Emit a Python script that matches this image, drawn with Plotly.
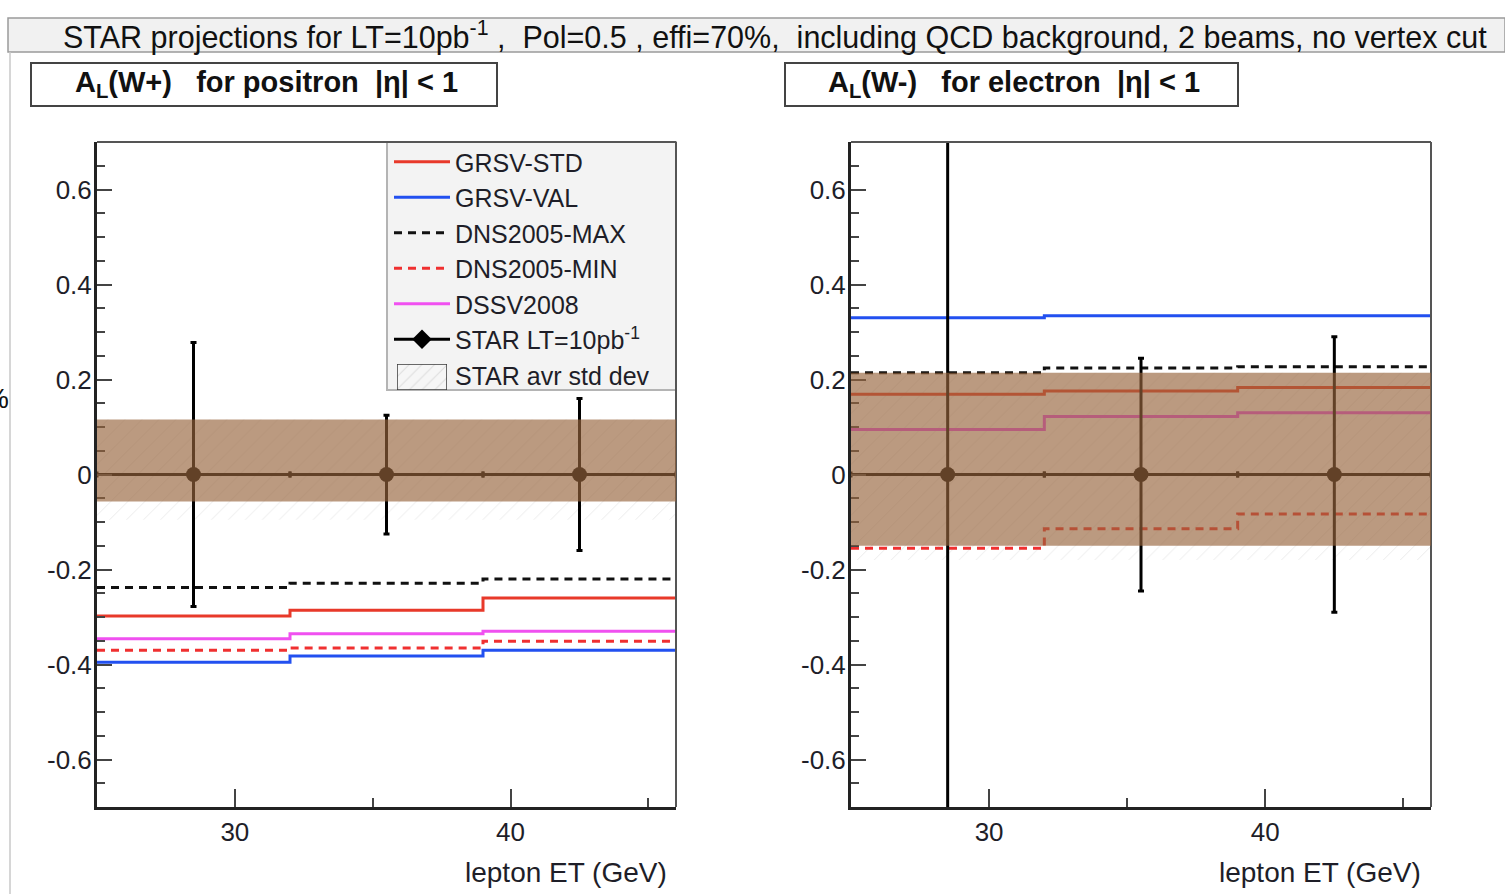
import plotly.graph_objects as go

# ---------------- data ----------------
x_edges = [25, 32, 39, 46]
x_centers = [28.5, 35.5, 42.5]
x_halfwidth = [3.5, 3.5, 3.5]

# W+ (positron) panel
wp_grsv_std = [-0.298, -0.286, -0.260]
wp_grsv_val = [-0.395, -0.382, -0.370]
wp_dns_max = [-0.238, -0.229, -0.220]
wp_dns_min = [-0.370, -0.365, -0.351]
wp_dssv = [-0.346, -0.335, -0.330]
wp_star = [0.0, 0.0, 0.0]
wp_star_err = [0.278, 0.125, 0.160]
wp_band_brown = [-0.057, 0.116]
wp_band_hatch = [-0.095, 0.116]

# W- (electron) panel
wm_grsv_std = [0.169, 0.176, 0.183]
wm_grsv_val = [0.330, 0.334, 0.334]
wm_dns_max = [0.214, 0.224, 0.227]
wm_dns_min = [-0.155, -0.114, -0.083]
wm_dssv = [0.095, 0.122, 0.130]
wm_star = [0.0, 0.0, 0.0]
wm_star_err = [0.80, 0.245, 0.290]
wm_band_brown = [-0.150, 0.214]
wm_band_hatch = [-0.180, 0.214]

y_tickvals = [-0.6, -0.4, -0.2, 0, 0.2, 0.4, 0.6]
y_ticktext = ["-0.6", "-0.4", "-0.2", "0", "0.2", "0.4", "0.6"]
x_tickvals = [30, 40]
x_ticktext = ["30", "40"]

title_text = ("STAR projections for LT=10pb<sup>-1</sup> ,\u00a0\u00a0Pol=0.5 , effi=70%,\u00a0\u00a0"
              "including QCD background, 2 beams, no vertex cut")
panel_titles = ["A<sub>L</sub>(W+)\u00a0\u00a0\u00a0for positron\u00a0\u00a0|η| &lt; 1",
                "A<sub>L</sub>(W-)\u00a0\u00a0\u00a0for electron\u00a0\u00a0|η| &lt; 1"]
x_title = "lepton ET (GeV)"

styles = {
    "GRSV-STD": dict(color="#e8392a", dash="solid"),
    "GRSV-VAL": dict(color="#2250f0", dash="solid"),
    "DNS2005-MAX": dict(color="#111111", dash="8px,6px"),
    "DNS2005-MIN": dict(color="#f03030", dash="8px,6px"),
    "DSSV2008": dict(color="#f050f0", dash="solid"),
}

W, H = 1505, 894
FONT = "Liberation Sans, Arial, Helvetica, sans-serif"
TXT = "#1e1e28"


def px_x(p):
    return p / W


def px_y(p):
    return 1 - p / H


fig = go.Figure()

PLOT_X = [(97, 676), (851, 1431)]
PLOT_Y = (142, 807)

# frame lines (top / right, thinner grey) and legend background
for (xl, xr) in PLOT_X:
    fig.add_shape(type="line", xref="paper", yref="paper", x0=px_x(xl), x1=px_x(xr),
                  y0=px_y(PLOT_Y[0]), y1=px_y(PLOT_Y[0]), line=dict(color="#555", width=2),
                  layer="above")
    fig.add_shape(type="line", xref="paper", yref="paper", x0=px_x(xr), x1=px_x(xr),
                  y0=px_y(PLOT_Y[0]), y1=px_y(PLOT_Y[1]), line=dict(color="#555", width=2),
                  layer="above")
fig.add_shape(type="rect", xref="paper", yref="paper", x0=px_x(387), x1=px_x(676),
              y0=px_y(390), y1=px_y(142), fillcolor="#f3f3f3",
              line=dict(color="#b4b4b4", width=2), layer="below")

panels = [
    dict(xa="x", ya="y", curves=[("GRSV-STD", wp_grsv_std), ("GRSV-VAL", wp_grsv_val),
                                  ("DNS2005-MAX", wp_dns_max), ("DNS2005-MIN", wp_dns_min),
                                  ("DSSV2008", wp_dssv)],
         star=wp_star, err=wp_star_err, brown=wp_band_brown, hatch=wp_band_hatch, overhang=0.0),
    dict(xa="x2", ya="y2", curves=[("GRSV-STD", wm_grsv_std), ("GRSV-VAL", wm_grsv_val),
                                    ("DNS2005-MAX", wm_dns_max), ("DNS2005-MIN", wm_dns_min),
                                    ("DSSV2008", wm_dssv)],
         star=wm_star, err=wm_star_err, brown=wm_band_brown, hatch=wm_band_hatch, overhang=0.2),
]

for i, p in enumerate(panels):
    x0, x1 = x_edges[0], x_edges[-1]
    lo, hi = p["hatch"]
    fig.add_trace(go.Scatter(
        x=[x0, x1, x1, x0, x0], y=[lo, lo, hi, hi, lo], mode="lines",
        fill="toself", fillcolor="rgba(255,255,255,0)",
        fillpattern=dict(shape="/", fgcolor="#d6d6d6", bgcolor="white", size=12, solidity=0.08),
        line=dict(width=0), showlegend=False, hoverinfo="skip",
        xaxis=p["xa"], yaxis=p["ya"]))
    for name, vals in p["curves"]:
        st = styles[name]
        fig.add_trace(go.Scatter(
            x=x_edges, y=vals + [vals[-1]], mode="lines", line_shape="hv",
            line=dict(color=st["color"], width=3, dash=st["dash"]),
            name=name, showlegend=(i == 0), legendrank=len(fig.data),
            xaxis=p["xa"], yaxis=p["ya"]))
    fig.add_trace(go.Scatter(
        x=x_centers, y=p["star"], mode="markers",
        marker=dict(symbol="circle", size=15, color="black"),
        error_y=dict(type="data", array=p["err"], color="black", thickness=3, width=3),
        error_x=dict(type="data", array=x_halfwidth, color="black", thickness=3, width=3),
        showlegend=False, xaxis=p["xa"], yaxis=p["ya"]))
    blo, bhi = p["brown"]
    fig.add_shape(type="rect", xref=p["xa"], yref=p["ya"], x0=x0, x1=x1 + p["overhang"],
                  y0=blo, y1=bhi, fillcolor="rgb(150,100,60)", opacity=0.65,
                  line=dict(width=0), layer="above")

# legend proxies
fig.add_trace(go.Scatter(
    x=[None], y=[None], mode="lines+markers", name="STAR LT=10pb<sup>-1</sup>",
    line=dict(color="black", width=3), marker=dict(symbol="diamond", size=15, color="black"),
    legendrank=100))
fig.add_trace(go.Bar(
    x=[None], y=[None], name="STAR avr std dev",
    marker=dict(color="rgba(0,0,0,0)", line=dict(width=0)),
    legendrank=101))
# hatched swatch for the "STAR avr std dev" legend entry (drawn on a hidden overlay axis)
fig.add_trace(go.Scatter(
    x=[0, 1, 1, 0, 0], y=[0, 0, 1, 1, 0], mode="lines", fill="toself",
    fillcolor="rgba(0,0,0,0)",
    fillpattern=dict(shape="/", fgcolor="#c4c4c4", bgcolor="#f6f6f6", size=9, solidity=0.12),
    line=dict(color="#3a3a3a", width=1.5), showlegend=False, hoverinfo="skip",
    xaxis="x3", yaxis="y3"))

axis_common = dict(showgrid=False, zeroline=False, showline=True, mirror=False,
                   linecolor="#222", linewidth=3, ticks="inside", tickcolor="#444",
                   tickfont=dict(family=FONT, size=26, color=TXT))

ydom = [px_y(PLOT_Y[1]), px_y(PLOT_Y[0])]

for i, (xk, yk) in enumerate([("xaxis", "yaxis"), ("xaxis2", "yaxis2")]):
    xl, xr = PLOT_X[i]
    fig.layout[xk] = dict(axis_common, domain=[px_x(xl), px_x(xr)],
                          range=[x_edges[0], x_edges[-1]],
                          tickvals=x_tickvals, ticktext=x_ticktext, ticklen=18, tickwidth=2,
                          minor=dict(tickvals=[25, 35, 45], ticklen=9, tickcolor="#444",
                                     ticks="inside", tickwidth=2),
                          anchor="y" if i == 0 else "y2")
    fig.layout[yk] = dict(axis_common, domain=ydom, range=[-0.7, 0.7],
                          tickvals=y_tickvals, ticktext=y_ticktext, ticklen=15, tickwidth=2,
                          ticklabelstandoff=-3,
                          minor=dict(dtick=0.05, tick0=0, ticklen=8, tickcolor="#444",
                                     ticks="inside", tickwidth=1.5),
                          anchor="x" if i == 0 else "x2")

# overlay axis for the legend swatch
SW_ROW = 377
fig.layout["xaxis3"] = dict(domain=[px_x(397), px_x(447)], range=[0, 1], visible=False,
                            anchor="y3", fixedrange=True)
fig.layout["yaxis3"] = dict(domain=[px_y(SW_ROW + 13), px_y(SW_ROW - 13)], range=[0, 1],
                            visible=False, anchor="x3", fixedrange=True)

shapes_extra = [
    dict(type="rect", xref="paper", yref="paper", x0=px_x(8), x1=1.0, y0=px_y(52), y1=px_y(18),
         fillcolor="#f1f1f1", line=dict(color="#9a9a9a", width=1.5), layer="below"),
    dict(type="line", xref="paper", yref="paper", x0=px_x(10), x1=px_x(10), y0=0, y1=px_y(52),
         line=dict(color="#c8c8c8", width=1.5)),
    dict(type="rect", xref="paper", yref="paper", x0=px_x(31), x1=px_x(497), y0=px_y(106),
         y1=px_y(63), fillcolor="white", line=dict(color="#444", width=2), layer="below"),
    dict(type="rect", xref="paper", yref="paper", x0=px_x(785), x1=px_x(1238), y0=px_y(106),
         y1=px_y(63), fillcolor="white", line=dict(color="#444", width=2), layer="below"),
]
for s in shapes_extra:
    fig.add_shape(**s)

ann_common = dict(xref="paper", yref="paper", showarrow=False, yanchor="middle")
annotations = [
    dict(ann_common, text=title_text, x=px_x(775), y=px_y(36), xanchor="center",
         font=dict(family=FONT, size=30.5, color="#111")),
    dict(ann_common, text=panel_titles[0], x=px_x(266), y=px_y(84), xanchor="center",
         font=dict(family=FONT, size=29, color="#111", weight="bold")),
    dict(ann_common, text=panel_titles[1], x=px_x(1014), y=px_y(84), xanchor="center",
         font=dict(family=FONT, size=29, color="#111", weight="bold")),
    dict(ann_common, text=x_title, x=px_x(669), y=px_y(872), xanchor="right",
         font=dict(family=FONT, size=28, color=TXT)),
    dict(ann_common, text=x_title, x=px_x(1423), y=px_y(872), xanchor="right",
         font=dict(family=FONT, size=28, color=TXT)),
    dict(ann_common, text="%", x=px_x(11), y=px_y(398), xanchor="right",
         font=dict(family=FONT, size=28, color="#111")),
]

fig.update_layout(
    width=W, height=H, margin=dict(l=0, r=0, t=0, b=0),
    paper_bgcolor="white", plot_bgcolor="rgba(0,0,0,0)",
    annotations=annotations,
    legend=dict(x=px_x(389), y=px_y(139), xanchor="left", yanchor="top",
                bgcolor="rgba(0,0,0,0)", borderwidth=0,
                font=dict(family=FONT, size=25, color=TXT), itemwidth=56,
                tracegroupgap=0, traceorder="normal"),
    showlegend=True,
)

fig.write_html("out.html")
